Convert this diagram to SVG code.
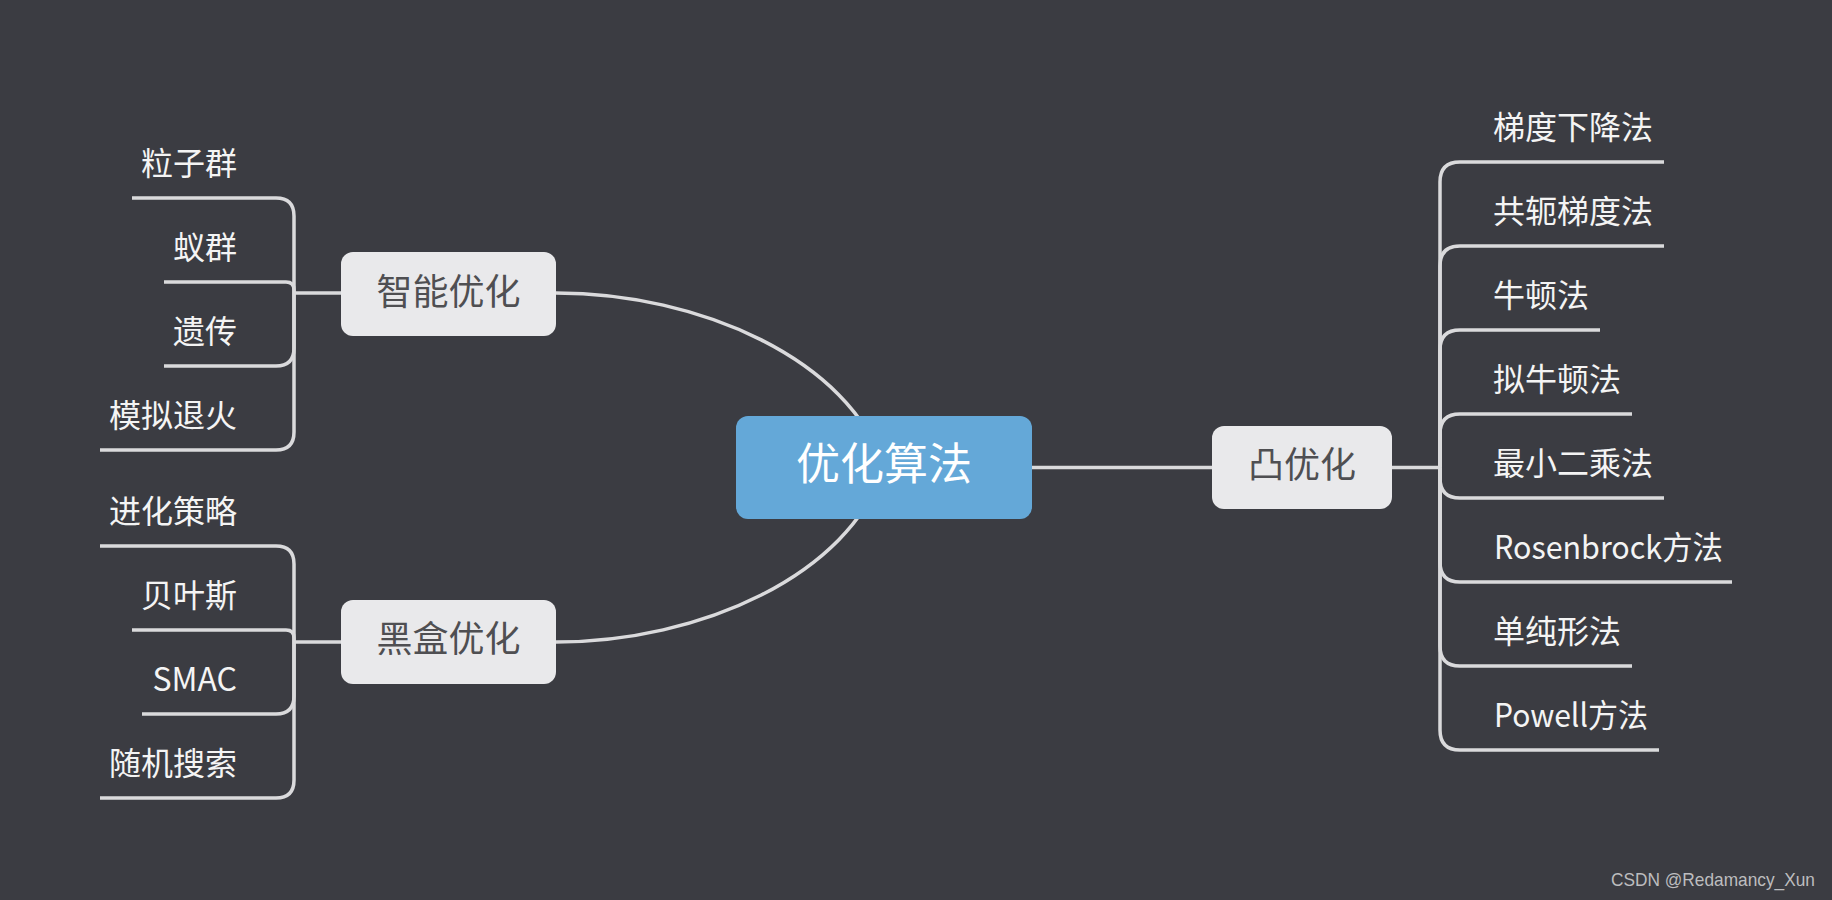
<svg xmlns="http://www.w3.org/2000/svg" width="1832" height="900" viewBox="0 0 1832 900">
<style>
.conn{fill:none;stroke:#dadadc;stroke-width:3.5;stroke-linecap:butt}
.box{fill:#e9e9eb}
.nt{font-family:"Noto Sans CJK SC","Noto Sans",sans-serif;font-size:36px;fill:#4f4f52;text-anchor:middle}
.lt{font-family:"Noto Sans CJK SC","Noto Sans",sans-serif;font-size:32px;fill:#f4f4f4}
.le{text-anchor:end}
</style>
<rect x="0" y="0" width="1832" height="900" fill="#3b3c42"/>
<g id="connectors" class="conn">
<path d="M556,293 C700,293 850,360 884,467"/>
<path d="M556,642 C700,642 850,575 884,467"/>
<path d="M1032,467.5 H1212"/>
<path d="M1392,467.5 H1440"/>
<path d="M341,293 H294"/>
<path d="M341,642 H294"/>
<path d="M294,293 V216 Q294,198 276,198 H132"/>
<path d="M294,293 V290 Q294,282 286,282 H164"/>
<path d="M294,293 V348 Q294,366 276,366 H164"/>
<path d="M294,293 V432 Q294,450 276,450 H100"/>
<path d="M294,642 V564 Q294,546 276,546 H100"/>
<path d="M294,642 V638 Q294,630 286,630 H132"/>
<path d="M294,642 V696 Q294,714 276,714 H142"/>
<path d="M294,642 V780 Q294,798 276,798 H100"/>
<path d="M1440,467.5 V182 Q1440,162 1460,162 H1664"/>
<path d="M1440,467.5 V266 Q1440,246 1460,246 H1664"/>
<path d="M1440,467.5 V350 Q1440,330 1460,330 H1600"/>
<path d="M1440,467.5 V434 Q1440,414 1460,414 H1632"/>
<path d="M1440,467.5 V478 Q1440,498 1460,498 H1664"/>
<path d="M1440,467.5 V562 Q1440,582 1460,582 H1732"/>
<path d="M1440,467.5 V646 Q1440,666 1460,666 H1632"/>
<path d="M1440,467.5 V730 Q1440,750 1460,750 H1659"/>
</g>
<g id="root">
<rect x="736" y="416" width="296" height="103" rx="12" fill="#64a8d8"/>
<text x="884" y="480" class="nt" style="font-size:44px;fill:#ffffff">优化算法</text>
</g>
<g id="n-zhineng">
<rect class="box" x="341" y="252" width="215" height="84" rx="12"/>
<text x="448.5" y="305" class="nt">智能优化</text>
</g>
<g id="n-heihe">
<rect class="box" x="341" y="600" width="215" height="84" rx="12"/>
<text x="448.5" y="652" class="nt">黑盒优化</text>
</g>
<g id="n-tu">
<rect class="box" x="1212" y="426" width="180" height="83" rx="12"/>
<text x="1302" y="478" class="nt">凸优化</text>
</g>
<g id="l-lizi"><text x="237" y="175" class="lt le">粒子群</text></g>
<g id="l-yiqun"><text x="237" y="259" class="lt le">蚁群</text></g>
<g id="l-yichuan"><text x="237" y="343" class="lt le">遗传</text></g>
<g id="l-tuihuo"><text x="237" y="427" class="lt le">模拟退火</text></g>
<g id="l-jinhua"><text x="237" y="523" class="lt le">进化策略</text></g>
<g id="l-beiyesi"><text x="237" y="607" class="lt le">贝叶斯</text></g>
<g id="l-smac"><text x="237" y="691" class="lt le">SMAC</text></g>
<g id="l-suiji"><text x="237" y="775" class="lt le">随机搜索</text></g>
<g id="r-tidu"><text x="1493" y="139" class="lt">梯度下降法</text></g>
<g id="r-gonge"><text x="1493" y="223" class="lt">共轭梯度法</text></g>
<g id="r-niudun"><text x="1493" y="307" class="lt">牛顿法</text></g>
<g id="r-niniudun"><text x="1493" y="391" class="lt">拟牛顿法</text></g>
<g id="r-zuixiao"><text x="1493" y="475" class="lt">最小二乘法</text></g>
<g id="r-rosen"><text x="1494" y="559" class="lt" textLength="229" lengthAdjust="spacingAndGlyphs">Rosenbrock方法</text></g>
<g id="r-danchun"><text x="1493" y="643" class="lt">单纯形法</text></g>
<g id="r-powell"><text x="1494" y="727" class="lt" textLength="154" lengthAdjust="spacingAndGlyphs">Powell方法</text></g>
<text x="1611" y="886" font-family="Liberation Sans, Arial, sans-serif" font-size="19" fill="#bdbdbf" textLength="204" lengthAdjust="spacingAndGlyphs">CSDN @Redamancy_Xun</text>
</svg>
